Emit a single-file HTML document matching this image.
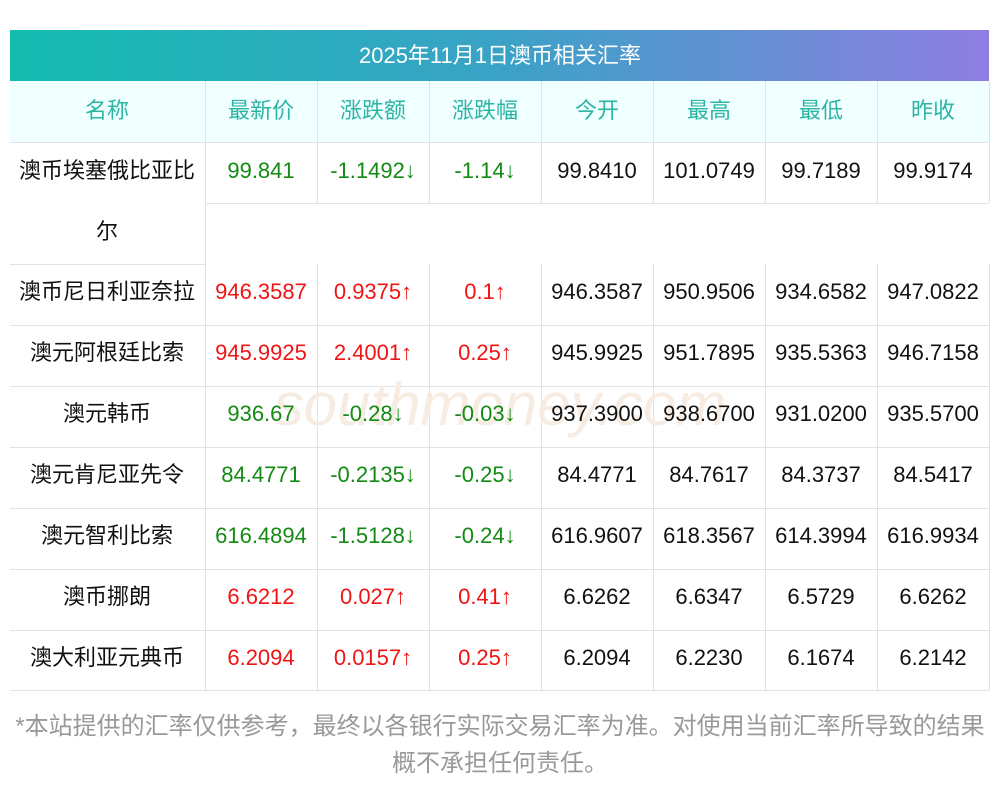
<!DOCTYPE html>
<html><head><meta charset="utf-8"><style>
body{margin:0;background:#fff;width:1000px;height:793px;overflow:hidden}
svg text{font-family:"Liberation Sans","Noto Sans CJK SC",sans-serif;font-size:22px}
</style></head><body>
<svg width="1000" height="793" xmlns="http://www.w3.org/2000/svg">
<defs><linearGradient id="g" x1="0" x2="1"><stop offset="0" stop-color="#13bcaf"/><stop offset="0.5" stop-color="#3aa2c6"/><stop offset="1" stop-color="#8f7ee2"/></linearGradient></defs>
<rect x="10" y="30" width="979" height="51" fill="url(#g)"/>
<text x="500" y="63" fill="#fff" text-anchor="middle">2025年11月1日澳币相关汇率</text>
<rect x="10" y="81" width="979" height="61" fill="#f0ffff"/>
<g fill="none" stroke="#e1e1ea" stroke-width="1">
<line x1="10" y1="142.5" x2="989" y2="142.5"/>
<line x1="205" y1="203.5" x2="989" y2="203.5"/>
<line x1="10" y1="264.5" x2="205" y2="264.5"/>
<line x1="10" y1="325.5" x2="989" y2="325.5"/>
<line x1="10" y1="386.5" x2="989" y2="386.5"/>
<line x1="10" y1="447.5" x2="989" y2="447.5"/>
<line x1="10" y1="508.5" x2="989" y2="508.5"/>
<line x1="10" y1="569.5" x2="989" y2="569.5"/>
<line x1="10" y1="630.5" x2="989" y2="630.5"/>
<line x1="10" y1="690.5" x2="989" y2="690.5"/>
<line x1="205.5" y1="81" x2="205.5" y2="690"/>
<line x1="317.5" y1="81" x2="317.5" y2="203"/><line x1="317.5" y1="264" x2="317.5" y2="690"/>
<line x1="429.5" y1="81" x2="429.5" y2="203"/><line x1="429.5" y1="264" x2="429.5" y2="690"/>
<line x1="541.5" y1="81" x2="541.5" y2="203"/><line x1="541.5" y1="264" x2="541.5" y2="690"/>
<line x1="653.5" y1="81" x2="653.5" y2="203"/><line x1="653.5" y1="264" x2="653.5" y2="690"/>
<line x1="765.5" y1="81" x2="765.5" y2="203"/><line x1="765.5" y1="264" x2="765.5" y2="690"/>
<line x1="877.5" y1="81" x2="877.5" y2="203"/><line x1="877.5" y1="264" x2="877.5" y2="690"/>
<line x1="989.5" y1="81" x2="989.5" y2="203"/><line x1="989.5" y1="264" x2="989.5" y2="690"/>
</g>
<text x="500" y="425" fill="#f6ece2" text-anchor="middle" style="font-size:60px;font-style:italic">southmoney.com</text>
<g text-anchor="middle" fill="#2cb5a5">
<text x="107" y="118">名称</text><text x="261" y="118">最新价</text><text x="373" y="118">涨跌额</text><text x="485" y="118">涨跌幅</text><text x="597" y="118">今开</text><text x="709" y="118">最高</text><text x="821" y="118">最低</text><text x="933" y="118">昨收</text>
</g>
<g text-anchor="middle" fill="#111">
<text x="107" y="178">澳币埃塞俄比亚比</text><text x="107" y="239">尔</text>
<text x="107" y="299">澳币尼日利亚奈拉</text>
<text x="107" y="360">澳元阿根廷比索</text>
<text x="107" y="421">澳元韩币</text>
<text x="107" y="482">澳元肯尼亚先令</text>
<text x="107" y="543">澳元智利比索</text>
<text x="107" y="604">澳币挪朗</text>
<text x="107" y="665">澳大利亚元典币</text>
<text x="597" y="178">99.8410</text><text x="709" y="178">101.0749</text><text x="821" y="178">99.7189</text><text x="933" y="178">99.9174</text>
<text x="597" y="299">946.3587</text><text x="709" y="299">950.9506</text><text x="821" y="299">934.6582</text><text x="933" y="299">947.0822</text>
<text x="597" y="360">945.9925</text><text x="709" y="360">951.7895</text><text x="821" y="360">935.5363</text><text x="933" y="360">946.7158</text>
<text x="597" y="421">937.3900</text><text x="709" y="421">938.6700</text><text x="821" y="421">931.0200</text><text x="933" y="421">935.5700</text>
<text x="597" y="482">84.4771</text><text x="709" y="482">84.7617</text><text x="821" y="482">84.3737</text><text x="933" y="482">84.5417</text>
<text x="597" y="543">616.9607</text><text x="709" y="543">618.3567</text><text x="821" y="543">614.3994</text><text x="933" y="543">616.9934</text>
<text x="597" y="604">6.6262</text><text x="709" y="604">6.6347</text><text x="821" y="604">6.5729</text><text x="933" y="604">6.6262</text>
<text x="597" y="665">6.2094</text><text x="709" y="665">6.2230</text><text x="821" y="665">6.1674</text><text x="933" y="665">6.2142</text>
</g>
<g text-anchor="middle" fill="#138a13">
<text x="261" y="178">99.841</text><text x="373" y="178">-1.1492↓</text><text x="485" y="178">-1.14↓</text>
<text x="261" y="421">936.67</text><text x="373" y="421">-0.28↓</text><text x="485" y="421">-0.03↓</text>
<text x="261" y="482">84.4771</text><text x="373" y="482">-0.2135↓</text><text x="485" y="482">-0.25↓</text>
<text x="261" y="543">616.4894</text><text x="373" y="543">-1.5128↓</text><text x="485" y="543">-0.24↓</text>
</g>
<g text-anchor="middle" fill="#f01414">
<text x="261" y="299">946.3587</text><text x="373" y="299">0.9375↑</text><text x="485" y="299">0.1↑</text>
<text x="261" y="360">945.9925</text><text x="373" y="360">2.4001↑</text><text x="485" y="360">0.25↑</text>
<text x="261" y="604">6.6212</text><text x="373" y="604">0.027↑</text><text x="485" y="604">0.41↑</text>
<text x="261" y="665">6.2094</text><text x="373" y="665">0.0157↑</text><text x="485" y="665">0.25↑</text>
</g>
<g text-anchor="middle" fill="#999" style="font-size:24px">
<text x="500" y="734" style="font-size:24px">*本站提供的汇率仅供参考，最终以各银行实际交易汇率为准。对使用当前汇率所导致的结果</text>
<text x="500" y="771" style="font-size:24px">概不承担任何责任。</text>
</g>
</svg>
</body></html>
